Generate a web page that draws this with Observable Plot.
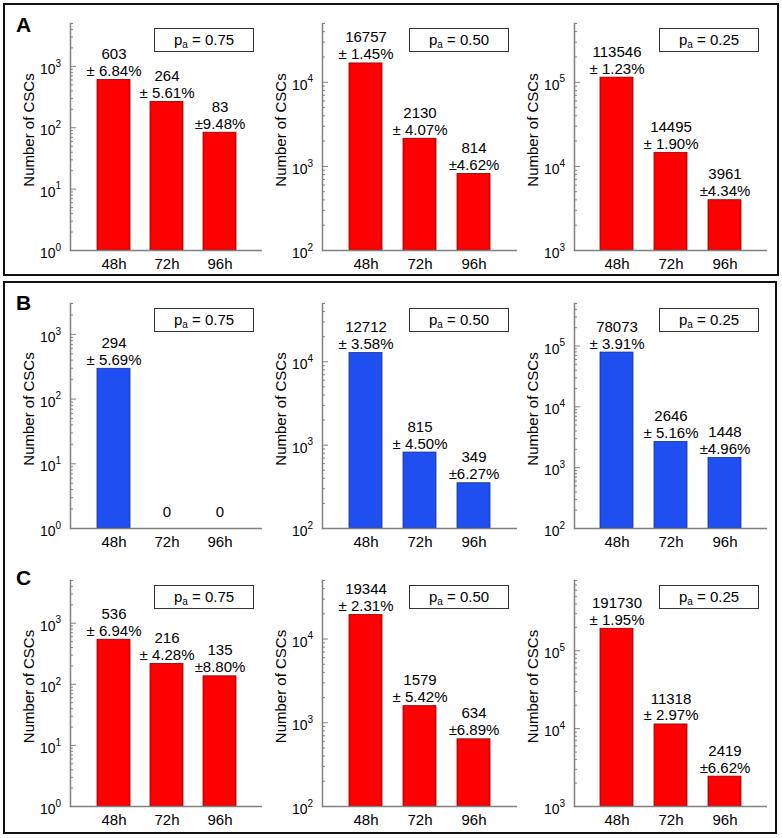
<!DOCTYPE html>
<html><head><meta charset="utf-8">
<script src="https://cdn.jsdelivr.net/npm/d3@7"></script>
<script src="https://cdn.jsdelivr.net/npm/@observablehq/plot@0.6"></script>
<style>
body{margin:0;background:#fff;font-family:"Liberation Sans",Arial,sans-serif;}
#wrap{position:relative;width:782px;height:838px;overflow:hidden;background:#fff;}
.box{position:absolute;border:2px solid #111;box-sizing:border-box;}
.letter{position:absolute;font-weight:bold;font-size:21px;line-height:21px;}
.pa{position:absolute;border:1px solid #333;background:#fff;box-sizing:border-box;font-size:15px;text-align:center;line-height:22px;}
.pa sub{font-size:10px;vertical-align:-3px;line-height:0;}
.plot{position:absolute;}
</style></head><body><div id="wrap"></div>
<script>
const times = ["48h", "72h", "96h"];
const paValues = ["0.75", "0.50", "0.25"];
const rowNames = ["A", "B", "C"];

const valuesA = [[603, 264, 83], [16757, 2130, 814], [113546, 14495, 3961]];
const errorsA = [["± 6.84%", "± 5.61%", "±9.48%"], ["± 1.45%", "± 4.07%", "±4.62%"], ["± 1.23%", "± 1.90%", "±4.34%"]];
const valuesB = [[294, 0, 0], [12712, 815, 349], [78073, 2646, 1448]];
const errorsB = [["± 5.69%", "", ""], ["± 3.58%", "± 4.50%", "±6.27%"], ["± 3.91%", "± 5.16%", "±4.96%"]];
const valuesC = [[536, 216, 135], [19344, 1579, 634], [191730, 11318, 2419]];
const errorsC = [["± 6.94%", "± 4.28%", "±8.80%"], ["± 2.31%", "± 5.42%", "±6.89%"], ["± 1.95%", "± 2.97%", "±6.62%"]];

const domainsA = [[1, 5000], [100, 50000], [1000, 500000]];
const domainsB = [[1, 3000], [100, 50000], [100, 500000]];
const domainsC = [[1, 5000], [100, 50000], [1000, 800000]];

const rowColors = ["#ff0000", "#1f4ff0", "#ff0000"];
const rowStrokes = ["#8a0000", "#14318f", "#8a0000"];

// layout (frame boxes)
const rowFrames = [[23, 250], [303, 528], [580, 806]];
const colFrames = [[70, 262], [322, 517], [574, 767]];

const wrap = document.getElementById("wrap");
function addDiv(cls, css, html) {
  const d = document.createElement("div");
  d.className = cls;
  Object.assign(d.style, css);
  if (html) d.innerHTML = html;
  wrap.appendChild(d);
  return d;
}
addDiv("box", {left: "3px", top: "3px", width: "776px", height: "273px"});
addDiv("box", {left: "3px", top: "281px", width: "774px", height: "553px"});

const grey = "#808080";
const font = '"Liberation Sans", Arial, sans-serif';

function panel(values, errs, dom, color, stroke, fl, fr, ft, fb) {
  const mL = 62, mR = 8, mT = 8, mB = 34;
  const fw = fr - fl, fh = fb - ft;
  const data = times.map((t, i) => ({t, v: values[i], label: values[i] > 0 ? values[i] + "\n" + errs[i] : String(values[i])}));
  const k0 = Math.round(Math.log10(dom[0]));
  const majors = [], minors = [];
  for (let k = k0; Math.pow(10, k) <= dom[1]; k++) {
    majors.push({v: Math.pow(10, k), e: k});
    for (let m = 2; m < 10; m++) {
      const v = m * Math.pow(10, k);
      if (v <= dom[1] * 1.0001) minors.push(v);
    }
  }
  const svg = Plot.plot({
    width: mL + fw + mR, height: mT + fh + mB,
    marginLeft: mL, marginRight: mR, marginTop: mT, marginBottom: mB,
    style: {fontFamily: font, fontSize: "15px", color: "#000", background: "transparent", overflow: "visible"},
    x: {type: "band", domain: times, paddingInner: 0.38, paddingOuter: 0.47},
    y: {type: "log", domain: dom, axis: null},
    marks: [
      Plot.barY(data.filter(d => d.v > 0), {x: "t", y1: () => dom[0], y2: "v", fill: color, stroke, strokeWidth: 0.8}),
      Plot.ruleY([dom[0]], {stroke: grey, strokeWidth: 1.5}),
      Plot.frame({anchor: "left", stroke: grey, strokeWidth: 1.5}),
      Plot.tickY(minors, {y: d => d, insetRight: fw - 3, stroke: grey, strokeWidth: 1}),
      Plot.tickY(majors, {y: d => d.v, insetRight: fw - 6, stroke: grey, strokeWidth: 1}),
      Plot.text(majors, {y: d => d.v, frameAnchor: "left", dx: -15, dy: 3, textAnchor: "end", text: () => "10", fontSize: 14}),
      Plot.text(majors, {y: d => d.v, frameAnchor: "left", dx: -15, dy: -3, textAnchor: "start", text: d => String(d.e), fontSize: 10}),
      Plot.text(data.filter(d => d.v > 0), {x: "t", y: "v", text: "label", lineAnchor: "bottom", dy: -4, lineHeight: 1.13, fontSize: 15}),
      Plot.text(data.filter(d => d.v <= 0), {x: "t", y: () => dom[0], text: "label", lineAnchor: "bottom", dy: -12, fontSize: 15}),
      Plot.axisX({tickSize: 0, tickPadding: 8, label: null, fontSize: 15}),
      Plot.text(["Number of CSCs"], {frameAnchor: "left", textAnchor: "middle", rotate: -90, dx: -41, dy: -7, fontSize: 15})
    ]
  });
  svg.classList.add("plot");
  svg.style.position = "absolute";
  svg.style.left = (fl - mL) + "px";
  svg.style.top = (ft - mT) + "px";
  wrap.appendChild(svg);
}

const allValues = [valuesA, valuesB, valuesC];
const allErrors = [errorsA, errorsB, errorsC];
const allDomains = [domainsA, domainsB, domainsC];
for (let r = 0; r < 3; r++) {
  for (let c = 0; c < 3; c++) {
    const [fl, fr] = colFrames[c];
    const [ft, fb] = rowFrames[r];
    panel(allValues[r][c], allErrors[r][c], allDomains[r][c], rowColors[r], rowStrokes[r], fl, fr, ft, fb);
    addDiv("pa", {left: (fr - 108) + "px", top: (ft + 5) + "px", width: "100px", height: "24px"},
      "p<sub>a</sub> = " + paValues[c]);
  }
}
addDiv("letter", {left: "16px", top: "14px"}, rowNames[0]);
addDiv("letter", {left: "16px", top: "292px"}, rowNames[1]);
addDiv("letter", {left: "16px", top: "567px"}, rowNames[2]);
</script></body></html>
